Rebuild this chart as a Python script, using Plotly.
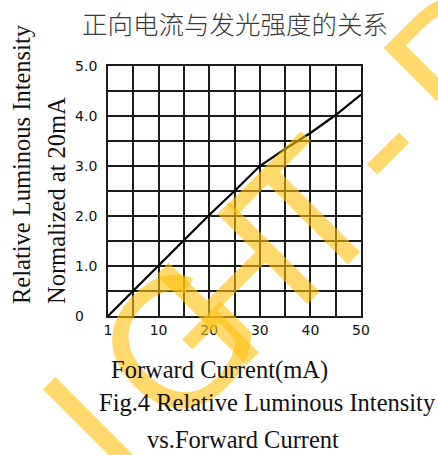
import plotly.graph_objects as go

# ---- data ----
current_pos = [0, 5, 10, 15, 20, 25, 30, 35, 40, 45, 50]   # axis position (left edge labelled "1")
intensity = [0.0, 0.51, 1.02, 1.52, 2.02, 2.5, 3.0, 3.34, 3.66, 4.02, 4.43]
x_tickvals = [0, 10, 20, 30, 40, 50]
x_ticktext = ["1", "10", "20", "30", "40", "50"]
y_tickvals = [0, 1, 2, 3, 4, 5]
y_ticktext = ["0\u00a0\u00a0\u00a0", "1.0", "2.0", "3.0", "4.0", "5.0"]

title_text = "正向电流与发光强度的关系"
y_title_1 = "Relative Luminous Intensity"
y_title_2 = "Normalized at 20mA"
x_title = "Forward Current(mA)"
caption_1 = "Fig.4 Relative Luminous Intensity"
caption_2 = "vs.Forward Current"
watermark_letters = ["I", "G", "H", "T", "-", "D"]

W, H = 438, 455
L, R, T, B = 108, 77, 66, 139
PW, PH = W - L - R, H - T - B


def px(x):
    return (x - L) / PW


def py(y):
    return (H - B - y) / PH


GRID = "#1c1c1c"
serif = dict(family="Liberation Serif, Times New Roman, serif", size=24.5, color="#111111")

fig = go.Figure()
fig.add_trace(go.Scatter(
    x=current_pos, y=intensity, mode="lines",
    line=dict(color="#000000", width=2.2),
    hoverinfo="skip", showlegend=False,
))

axis_common = dict(
    showgrid=True, gridcolor=GRID, gridwidth=1.6,
    showline=True, linecolor=GRID, linewidth=1.8, mirror=True,
    zeroline=False, ticks="",
    tickfont=dict(family="DejaVu Sans, sans-serif", size=14, color="#111111"),
)

fig.update_xaxes(range=[0, 50], **axis_common)
fig.update_yaxes(range=[0, 5], **axis_common)
fig.update_xaxes(tickvals=x_tickvals, ticktext=x_ticktext,
                 minor=dict(dtick=5, showgrid=True, gridcolor=GRID, gridwidth=1.6, ticks=""))
fig.update_yaxes(tickvals=y_tickvals, ticktext=y_ticktext, ticklabelstandoff=6,
                 minor=dict(dtick=0.5, showgrid=True, gridcolor=GRID, gridwidth=1.6, ticks=""))

annotations = []

# diagonal watermark, one letter per annotation along a 45 degree baseline
wm_mid = 521                                   # x + y of the letters' mid line (px)
wm_along = [-334, -163, -45.5, 95.5, 234.5, 409]  # x - y of each letter centre (px)
wm_font = dict(family="Liberation Sans, Arial, sans-serif", size=185,
               color="rgba(255,192,10,0.6)")
for ch, dd in zip(watermark_letters, wm_along):
    cx, cy = (wm_mid + dd) / 2, (wm_mid - dd) / 2
    annotations.append(dict(text=ch, x=px(cx), y=py(cy), textangle=-45, font=wm_font))

annotations += [
    dict(text=title_text, x=px(234.5), y=py(22),
         font=dict(family="Noto Sans CJK SC, sans-serif", size=25.5, color="#3a3a3a", weight=300)),
    dict(text=y_title_1, x=px(21), y=py(164), textangle=-90, font=serif),
    dict(text=y_title_2, x=px(56), y=py(201), textangle=-90, font=serif),
    dict(text=x_title, x=px(219), y=py(370), font=serif),
    dict(text=caption_1, x=px(267), y=py(403), font=serif),
    dict(text=caption_2, x=px(242.5), y=py(439), font=serif),
]
for a in annotations:
    a.update(xref="paper", yref="paper", showarrow=False, xanchor="center", yanchor="middle")

fig.update_layout(
    width=W, height=H,
    margin=dict(l=L, r=R, t=T, b=B, pad=0),
    paper_bgcolor="white", plot_bgcolor="rgba(0,0,0,0)",
    annotations=annotations,
    showlegend=False,
)

fig.write_html(
    "out.html",
    config={"displayModeBar": False},
    post_script="document.body.style.margin='0';document.body.style.padding='0';"
                "document.body.style.overflow='hidden';",
)
